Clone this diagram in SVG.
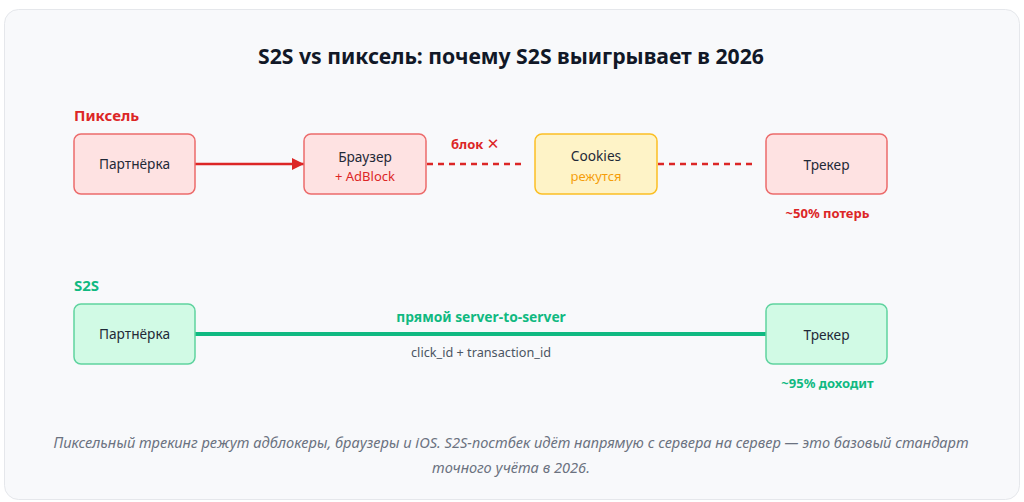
<svg xmlns="http://www.w3.org/2000/svg" width="1024" height="502" viewBox="0 0 1024 502">
<defs>
<style>
.t{font-family:"Noto Sans","Open Sans","Liberation Sans",sans-serif}
.title{font-size:21.2px;font-weight:700;fill:#111827}
.sec{font-size:15px;font-weight:700}
.lbl{font-size:13.7px;fill:#1f2937}
.sub{font-size:13px}
.small{font-size:13px;font-weight:700}
.red{fill:#dc2626}
.green{fill:#10b981}
.pink{fill:#fee2e2;stroke:#ec6b6b;stroke-width:1.5}
.yel{fill:#fef3c7;stroke:#fbbf24;stroke-width:1.5}
.grn{fill:#d1fae5;stroke:#5fd39f;stroke-width:1.5}
.cap{font-size:14.6px;font-style:italic;fill:#6b7280}
</style>
<marker id="ah" viewBox="0 0 12 12" markerWidth="12" markerHeight="12" refX="12" refY="6" orient="auto" markerUnits="userSpaceOnUse">
<path d="M0,0 L12,6 L0,12 Z" fill="#dc2626"/>
</marker>
</defs>
<rect x="4.5" y="9.5" width="1015" height="490" rx="14" fill="#f8f9fb" stroke="#e5e7eb" stroke-width="1"/>
<text class="t title" x="511" y="64" text-anchor="middle">S2S vs пиксель: почему S2S выигрывает в 2026</text>

<text class="t sec red" x="74" y="121">Пиксель</text>
<text class="t sec green" x="74" y="291">S2S</text>

<g id="connectors">
<line x1="195" y1="164" x2="304" y2="164" stroke="#dc2626" stroke-width="2.5" marker-end="url(#ah)"/>
<line x1="427" y1="164" x2="521" y2="164" stroke="#dc2626" stroke-width="2.5" stroke-dasharray="6,5"/>
<line x1="658" y1="164" x2="752" y2="164" stroke="#dc2626" stroke-width="2.5" stroke-dasharray="6,5"/>
<text class="t small red" x="451" y="149">блок <tspan font-weight="400" font-size="15" font-family="DejaVu Sans, sans-serif">✕</tspan></text>
<line x1="195" y1="334" x2="766" y2="334" stroke="#10b981" stroke-width="4"/>
<text class="t green" x="481" y="322" text-anchor="middle" font-size="13.8" font-weight="700">прямой server-to-server</text>
<text class="t" x="481" y="357" text-anchor="middle" font-size="12.7" fill="#4b5563">click_id + transaction_id</text>
</g>

<g id="pix-partner">
<rect class="pink" x="74" y="134" width="121" height="60" rx="7"/>
<text class="t lbl" x="134.5" y="169" text-anchor="middle">Партнёрка</text>
</g>
<g id="pix-browser">
<rect class="pink" x="304" y="134" width="122" height="60" rx="7"/>
<text class="t lbl" x="365" y="162" text-anchor="middle" font-size="12.8">Браузер</text>
<text class="t sub red" x="365" y="181" text-anchor="middle" font-size="13">+ AdBlock</text>
</g>
<g id="pix-cookies">
<rect class="yel" x="535" y="134" width="122" height="60" rx="7"/>
<text class="t lbl" x="596" y="161" text-anchor="middle" font-size="12.8">Cookies</text>
<text class="t sub" x="596" y="181" text-anchor="middle" font-size="13" fill="#f59e0b">режутся</text>
</g>
<g id="pix-tracker">
<rect class="pink" x="766" y="134" width="121" height="60" rx="7"/>
<text class="t lbl" x="826.5" y="170" text-anchor="middle" font-size="12.8">Трекер</text>
<text class="t small red" x="827.5" y="218" text-anchor="middle">~50% потерь</text>
</g>

<g id="s2s-partner">
<rect class="grn" x="74" y="304" width="121" height="60" rx="7"/>
<text class="t lbl" x="134.5" y="339" text-anchor="middle">Партнёрка</text>
</g>
<g id="s2s-tracker">
<rect class="grn" x="766" y="304" width="121" height="60" rx="7"/>
<text class="t lbl" x="826.5" y="340" text-anchor="middle" font-size="12.8">Трекер</text>
<text class="t small green" x="827.5" y="388" text-anchor="middle">~95% доходит</text>
</g>

<text class="t cap" x="511" y="448" text-anchor="middle">Пиксельный трекинг режут адблокеры, браузеры и iOS. S2S-постбек идёт напрямую с сервера на сервер — это базовый стандарт</text>
<text class="t cap" x="511" y="473" text-anchor="middle">точного учёта в 2026.</text>
</svg>
